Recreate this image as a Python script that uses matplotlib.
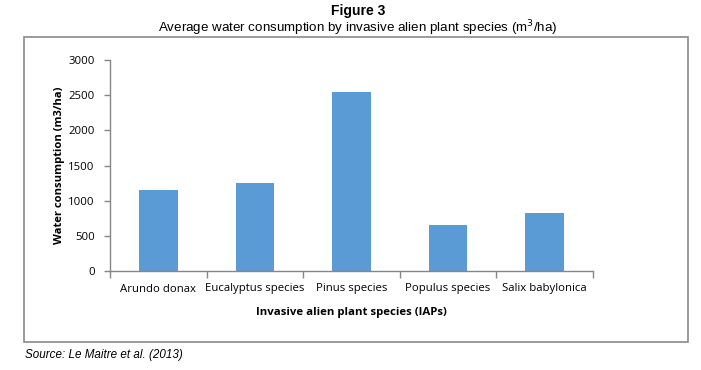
import matplotlib
matplotlib.use("Agg")
import matplotlib.pyplot as plt
from matplotlib.patches import Rectangle

categories = ["Arundo donax", "Eucalyptus species", "Pinus species", "Populus species", "Salix babylonica"]
values = [1150, 1250, 2550, 650, 830]
yticks = [0, 500, 1000, 1500, 2000, 2500, 3000]

W, H = 701, 370
fig = plt.figure(figsize=(W / 100, H / 100), dpi=100)
fig.patch.set_facecolor("white")

# outer frame
fig.add_artist(Rectangle((24 / W, 1 - 342 / H), (688 - 24) / W, (342 - 37) / H,
                         transform=fig.transFigure, fill=False, edgecolor="#8a8a8a", linewidth=1.2))

ax = fig.add_axes([110 / W, 1 - 271 / H, (593 - 110) / W, (271 - 60) / H])
x = range(len(categories))
ax.bar(x, values, width=0.4, color="#5B9BD5")
ax.set_xlim(-0.5, len(categories) - 0.5)
ax.set_ylim(0, 3000)
ax.set_yticks(yticks)
ax.set_yticklabels([str(v) for v in yticks], fontsize=8.2, family="Open Sans")
ax.set_xticks(list(x))
ax.set_xticklabels(categories, fontsize=8.2, family="Open Sans")
ax.tick_params(axis="x", length=0, pad=9)
ax.set_xticks([i - 0.5 for i in range(len(categories) + 1)], minor=True)
ax.tick_params(axis="x", which="minor", length=5, color="#868686", width=1)
ax.tick_params(axis="y", length=4, color="#868686", width=1, pad=7)
for s in ["top", "right"]:
    ax.spines[s].set_visible(False)
for s in ["left", "bottom"]:
    ax.spines[s].set_color("#868686")
    ax.spines[s].set_linewidth(1)

ax.set_ylabel("Water consumption (m3/ha)", fontsize=8.1, fontweight="bold", family="Open Sans", labelpad=2)
ax.set_xlabel("Invasive alien plant species (IAPs)", fontsize=8.2, fontweight="bold", family="Open Sans", labelpad=9)

fig.text(358 / W, 1 - 11 / H, "Figure 3", ha="center", va="center", fontsize=10, fontweight="bold",
         family="Liberation Sans")
fig.text(358 / W, 1 - 28 / H, "Average water consumption by invasive alien plant species (m$^3$/ha)",
         ha="center", va="center", fontsize=9.6, family="Liberation Sans")
fig.text(25 / W, 1 - 355 / H, "Source: Le Maitre et al. (2013)", ha="left", va="center", fontsize=8.4,
         style="italic", family="Liberation Sans")

fig.savefig("out.png", dpi=100)
